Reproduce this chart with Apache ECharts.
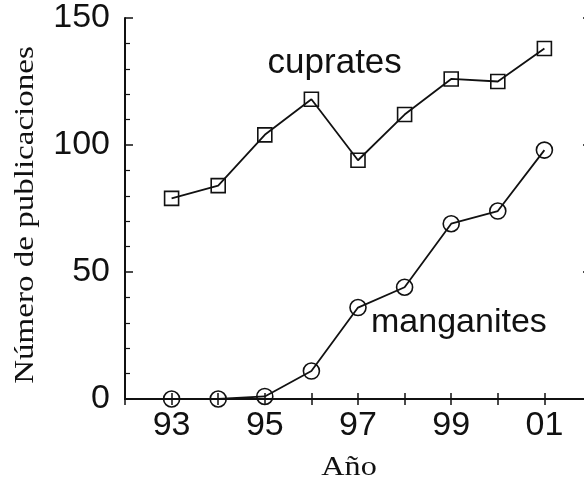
<!DOCTYPE html>
<html>
<head>
<meta charset="utf-8">
<script src="https://cdn.jsdelivr.net/npm/echarts@6/dist/echarts.min.js"></script>
<style>
  html, body { margin: 0; padding: 0; background: #fff; }
  #chart { width: 584px; height: 487px; }
</style>
</head>
<body>
<div id="chart"></div>
<script>
// Publications per year, 1993-2001
const years = [93, 94, 95, 96, 97, 98, 99, 100, 101];
const cuprates = [79, 84, 104, 118, 94, 112, 126, 125, 138];
const manganites = [0, 0, 1, 11, 36, 44, 69, 74, 98];
const yTicks = [0, 50, 100, 150];
const xTickLabels = ['93', '95', '97', '99', '01'];

const sans = '"Liberation Sans", Arial, Helvetica, sans-serif';
const serif = '"Liberation Serif", "Times New Roman", serif';
const ink = '#111';

const chart = echarts.init(document.getElementById('chart'), null, { renderer: 'canvas' });

function pairs(xs, ys) { return xs.map((x, i) => [x, ys[i]]); }

const xCommon = {
  type: 'value', min: 92, max: 102, interval: 1,
  axisLine: { show: true, lineStyle: { color: ink, width: 2 } },
  axisTick: { show: true, inside: true, length: 6, lineStyle: { color: ink, width: 1.5 } },
  splitLine: { show: false }
};
const yCommon = {
  type: 'value', min: yTicks[0], max: yTicks[yTicks.length - 1], interval: 50,
  axisLine: { show: true, lineStyle: { color: ink, width: 2 } },
  axisTick: { show: true, inside: true, length: 8, lineStyle: { color: ink, width: 1.5 } },
  minorTick: { show: true, splitNumber: 5, length: 5, lineStyle: { color: ink, width: 1.2 } },
  splitLine: { show: false }
};

const markerStyle = { color: 'transparent', borderColor: ink, borderWidth: 1.6 };

chart.setOption({
  animation: false,
  backgroundColor: '#fff',
  // the frame runs a little past the right edge of the canvas
  grid: { left: 125, width: 466, top: 18, bottom: 88, containLabel: false, outerBoundsMode: 'none' },
  xAxis: [
    Object.assign({}, xCommon, {
      position: 'bottom',
      axisLabel: {
        show: true, margin: 10, color: ink, fontFamily: sans, fontSize: 34,
        formatter: v => {
          const s = String(v % 100).padStart(2, '0');
          return xTickLabels.indexOf(s) >= 0 && v % 2 === 1 ? s : '';
        }
      }
    }),
    Object.assign({}, xCommon, { position: 'top', axisLabel: { show: false } })
  ],
  yAxis: [
    Object.assign({}, yCommon, {
      position: 'left',
      axisLabel: { show: true, margin: 15, color: ink, fontFamily: sans, fontSize: 34 }
    }),
    Object.assign({}, yCommon, { position: 'right', axisLabel: { show: false } })
  ],
  series: [
    {
      name: 'cuprates', type: 'line', data: pairs(years, cuprates),
      symbol: 'rect', symbolSize: 14,
      lineStyle: { color: ink, width: 1.8 }, itemStyle: markerStyle
    },
    {
      name: 'manganites', type: 'line', data: pairs(years, manganites),
      symbol: 'circle', symbolSize: 16,
      lineStyle: { color: ink, width: 1.8 }, itemStyle: markerStyle
    }
  ]
});

// Series names and axis titles
const cupLabelAt = chart.convertToPixel({ gridIndex: 0 }, [95.06, 132]);
const manLabelAt = chart.convertToPixel({ gridIndex: 0 }, [97.28, 30]);

chart.setOption({
  graphic: [
    { type: 'text', x: cupLabelAt[0], y: cupLabelAt[1],
      style: { text: 'cuprates', font: '35px ' + sans, fill: ink, textAlign: 'left', textVerticalAlign: 'middle' } },
    { type: 'text', x: manLabelAt[0], y: manLabelAt[1],
      style: { text: 'manganites', font: '34px ' + sans, fill: ink, textAlign: 'left', textVerticalAlign: 'middle' } },
    { type: 'text', x: 349, y: 468, scaleX: 1.15,
      style: { text: 'Año', font: '28px ' + serif, fill: ink, textAlign: 'center', textVerticalAlign: 'middle' } },
    { type: 'text', x: 26, y: 215, rotation: Math.PI / 2, scaleX: 1.18,
      style: { text: 'Número de publicaciones', font: '28px ' + serif, fill: ink, textAlign: 'center', textVerticalAlign: 'middle' } }
  ]
});
</script>
</body>
</html>
